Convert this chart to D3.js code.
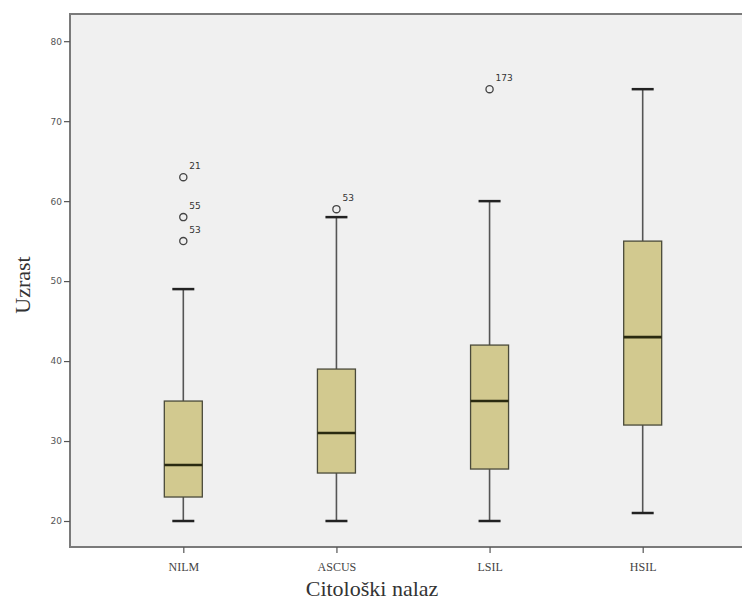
<!DOCTYPE html>
<html>
<head>
<meta charset="utf-8">
<script src="https://cdn.jsdelivr.net/npm/d3@7"></script>
<style>
  html, body { margin: 0; padding: 0; background: #fff; }
  svg { display: block; }
</style>
</head>
<body>
<svg id="chart"></svg>
<script>
'use strict';

const WIDTH = 742;
const HEIGHT = 605;

// data
const CATEGORIES = ['NILM', 'ASCUS', 'LSIL', 'HSIL'];
const WHISKER_LOW = [20, 20, 20, 21];
const Q1 = [23, 26, 26.5, 32];
const MEDIAN = [27, 31, 35, 43];
const Q3 = [35, 39, 42, 55];
const WHISKER_HIGH = [49, 58, 60, 74];
const OUTLIERS = [
  { cat: 'NILM', value: 63, label: '21' },
  { cat: 'NILM', value: 58, label: '55' },
  { cat: 'NILM', value: 55, label: '53' },
  { cat: 'ASCUS', value: 59, label: '53' },
  { cat: 'LSIL', value: 74, label: '173' },
];
const Y_TICKS = [20, 30, 40, 50, 60, 70, 80];

const PLOT = { left: 70, top: 14, right: 756, bottom: 547 };

const svg = d3.select('#chart')
  .attr('width', WIDTH)
  .attr('height', HEIGHT);

const y = d3.scaleLinear()
  .domain([16.75, 83.4])
  .range([PLOT.bottom, PLOT.top]);

const x = d3.scalePoint()
  .domain(CATEGORIES)
  .range([PLOT.left, PLOT.right])
  .padding(0.74);

// plot background + frame
svg.append('rect')
  .attr('x', PLOT.left).attr('y', PLOT.top)
  .attr('width', PLOT.right - PLOT.left).attr('height', PLOT.bottom - PLOT.top)
  .attr('fill', '#f0f0f0')
  .attr('stroke', '#7a7a7a').attr('stroke-width', 2);

// y axis
const yAxis = svg.append('g')
  .attr('transform', `translate(${PLOT.left},0)`)
  .call(d3.axisLeft(y).tickValues(Y_TICKS).tickSize(6).tickSizeOuter(0));
yAxis.select('.domain').remove();
yAxis.selectAll('line').attr('stroke', '#555').attr('stroke-width', 1.2);
yAxis.selectAll('text')
  .attr('fill', '#555').attr('font-size', 9)
  .attr('font-family', 'DejaVu Sans, sans-serif')
  .attr('x', -8);

// x axis
const xAxis = svg.append('g')
  .attr('transform', `translate(0,${PLOT.bottom})`)
  .call(d3.axisBottom(x).tickSize(6).tickSizeOuter(0));
xAxis.select('.domain').remove();
xAxis.selectAll('line').attr('stroke', '#555').attr('stroke-width', 1.2);
xAxis.selectAll('text')
  .attr('fill', '#444').attr('font-size', 12)
  .attr('font-family', 'Liberation Serif, serif')
  .attr('dy', '1.25em');

// axis titles
svg.append('text')
  .attr('transform', `translate(30,285) rotate(-90)`)
  .attr('text-anchor', 'middle')
  .attr('font-family', 'Liberation Serif, serif')
  .attr('font-size', 22).attr('fill', '#333')
  .text('Uzrast');

svg.append('text')
  .attr('x', 372).attr('y', 596)
  .attr('text-anchor', 'middle')
  .attr('font-family', 'Liberation Serif, serif')
  .attr('font-size', 22).attr('fill', '#333')
  .text('Citološki nalaz');

// boxes
const BOX_W = 38;
const CAP_W = 22;
const boxes = svg.append('g').attr('class', 'boxes');

CATEGORIES.forEach((cat, i) => {
  const cx = x(cat);
  const g = boxes.append('g');

  // whiskers
  g.append('line')
    .attr('x1', cx).attr('x2', cx)
    .attr('y1', y(Q3[i])).attr('y2', y(WHISKER_HIGH[i]))
    .attr('stroke', '#555').attr('stroke-width', 1.6);
  g.append('line')
    .attr('x1', cx).attr('x2', cx)
    .attr('y1', y(Q1[i])).attr('y2', y(WHISKER_LOW[i]))
    .attr('stroke', '#555').attr('stroke-width', 1.6);

  [WHISKER_HIGH[i], WHISKER_LOW[i]].forEach(v => {
    g.append('line')
      .attr('x1', cx - CAP_W / 2).attr('x2', cx + CAP_W / 2)
      .attr('y1', y(v)).attr('y2', y(v))
      .attr('stroke', '#222').attr('stroke-width', 2.5);
  });

  g.append('rect')
    .attr('x', cx - BOX_W / 2).attr('width', BOX_W)
    .attr('y', y(Q3[i])).attr('height', y(Q1[i]) - y(Q3[i]))
    .attr('fill', '#d2c98f')
    .attr('stroke', '#4a4a3a').attr('stroke-width', 1.3);

  g.append('line')
    .attr('x1', cx - BOX_W / 2).attr('x2', cx + BOX_W / 2)
    .attr('y1', y(MEDIAN[i])).attr('y2', y(MEDIAN[i]))
    .attr('stroke', '#2a2a10').attr('stroke-width', 2.6);
});

// outliers
const out = svg.append('g').attr('class', 'outliers');
OUTLIERS.forEach(o => {
  const cx = x(o.cat);
  out.append('circle')
    .attr('cx', cx).attr('cy', y(o.value)).attr('r', 3.6)
    .attr('fill', 'none').attr('stroke', '#444').attr('stroke-width', 1.3);
  out.append('text')
    .attr('x', cx + 6).attr('y', y(o.value) - 8)
    .attr('font-family', 'DejaVu Sans, sans-serif')
    .attr('font-size', 9).attr('fill', '#333')
    .text(o.label);
});
</script>
</body>
</html>
